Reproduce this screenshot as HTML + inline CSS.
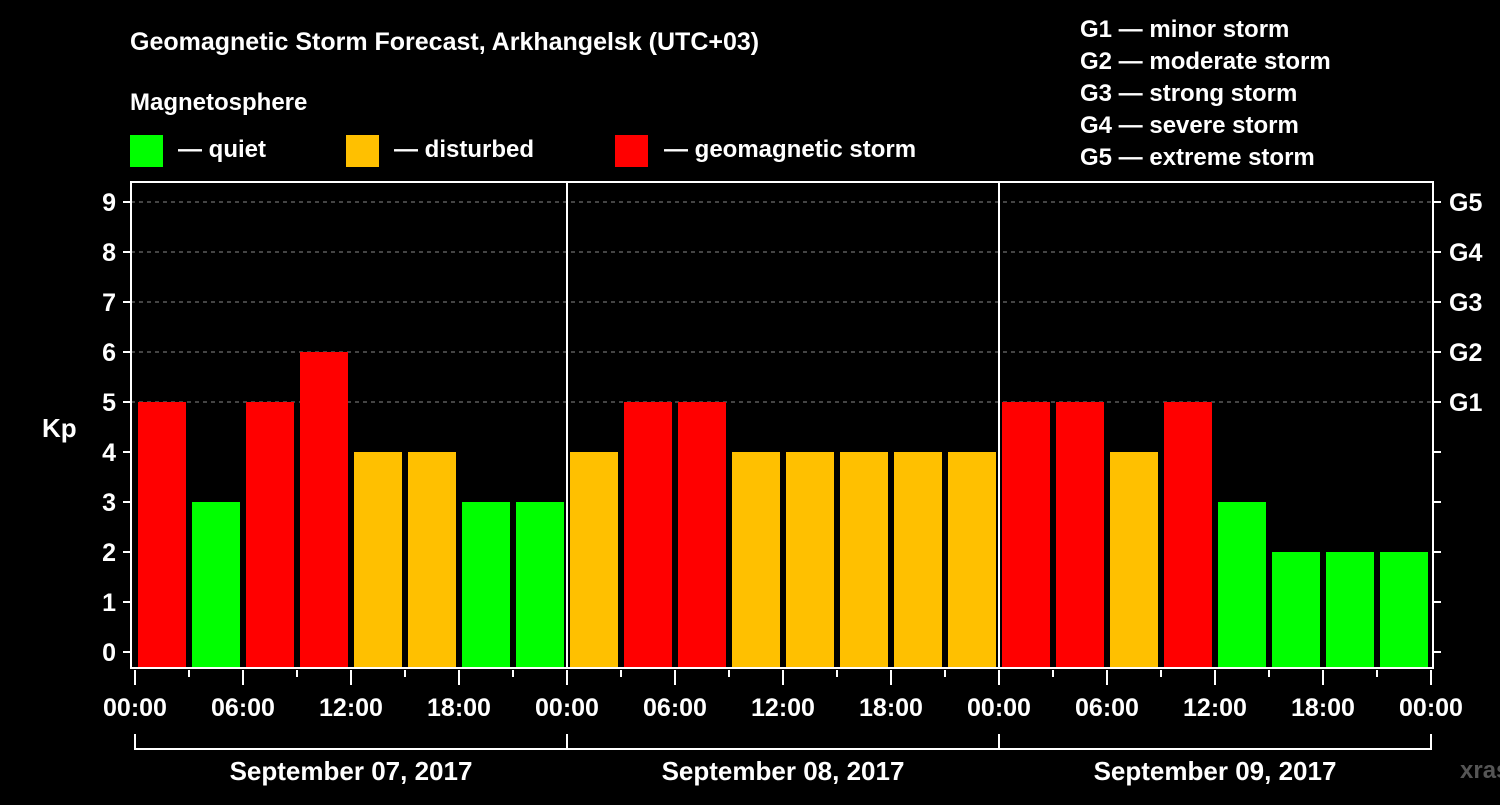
<!DOCTYPE html>
<html><head><meta charset="utf-8"><style>
body{margin:0;background:#000;}
svg text{font-family:"Liberation Sans",Arial,sans-serif;font-weight:bold;fill:#fff;}
</style></head><body>
<svg id="c" width="1500" height="800" xmlns="http://www.w3.org/2000/svg">
<rect width="1500" height="800" fill="#000"/>
<text x="130" y="50" font-size="25">Geomagnetic Storm Forecast, Arkhangelsk (UTC+03)</text>
<text x="130" y="110" font-size="24">Magnetosphere</text>
<g>
<rect x="130" y="135" width="33" height="32" fill="#00ff00"/>
<text x="178" y="157" font-size="24">— quiet</text>
<rect x="346" y="135" width="33" height="32" fill="#ffc000"/>
<text x="394" y="157" font-size="24">— disturbed</text>
<rect x="615" y="135" width="33" height="32" fill="#ff0000"/>
<text x="664" y="157" font-size="24">— geomagnetic storm</text>
</g>
<g font-size="24">
<text x="1080" y="37">G1 — minor storm</text>
<text x="1080" y="69">G2 — moderate storm</text>
<text x="1080" y="101">G3 — strong storm</text>
<text x="1080" y="133">G4 — severe storm</text>
<text x="1080" y="165">G5 — extreme storm</text>
</g>
<text x="42" y="437" font-size="26">Kp</text>
<text x="1460" y="778" font-size="24" fill="#555" style="fill:#555">xras.ru</text>
<g id="plot"></g>
</svg>
<script>
const kpValues=[5,3,5,6,4,4,3,3, 4,5,5,4,4,4,4,4, 5,5,4,5,3,2,2,2];
const dayLabels=["September 07, 2017","September 08, 2017","September 09, 2017"];
const timeLabels=["00:00","06:00","12:00","18:00"];
const yTicks=[0,1,2,3,4,5,6,7,8,9];
const gLabels=["G1","G2","G3","G4","G5"];

const NS="http://www.w3.org/2000/svg";
const g=document.getElementById('plot');
const X0=135,STEP=54,Y0=652,UNIT=50,BOTTOM=668,TOP=182,LEFT=131,RIGHT=1433;
const xs=i=>X0+i*STEP;
const ys=v=>Y0-v*UNIT;
function el(t,a){const e=document.createElementNS(NS,t);for(const k in a)e.setAttribute(k,a[k]);g.appendChild(e);return e;}
function color(v){return v>=5?'#ff0000':v>=4?'#ffc000':'#00ff00';}
// gridlines
yTicks.forEach(v=>{if(v>=5){const l=el('line',{x1:LEFT,x2:RIGHT,y1:ys(v),y2:ys(v),stroke:'#888','stroke-dasharray':'4,4','stroke-width':1});

}});
// bars
kpValues.forEach((v,i)=>{const r=el('rect',{x:xs(i)+3,y:ys(v),width:48,height:BOTTOM-ys(v),fill:color(v)});

});
// frame
const fr=el('rect',{x:LEFT,y:TOP,width:RIGHT-LEFT,height:BOTTOM-TOP,fill:'none',stroke:'#fff','stroke-width':2});


// day separators
for(let d=1;d<dayLabels.length;d++){const l=el('line',{x1:xs(d*8),x2:xs(d*8),y1:TOP,y2:BOTTOM,stroke:'#fff','stroke-width':2});

}
// y ticks
yTicks.forEach(v=>{
el('line',{x1:123,x2:LEFT,y1:ys(v),y2:ys(v),stroke:'#fff','stroke-width':2});
el('line',{x1:RIGHT,x2:1441,y1:ys(v),y2:ys(v),stroke:'#fff','stroke-width':2});
const t=el('text',{x:116,y:ys(v)+9,'font-size':25,'text-anchor':'end'});t.textContent=v;

});
gLabels.forEach((s,i)=>{const t=el('text',{x:1449,y:ys(5+i)+9,'font-size':25});t.textContent=s;

});
// x ticks
for(let i=0;i<=kpValues.length;i++){const major=i%2===0;
el('line',{x1:xs(i),x2:xs(i),y1:670,y2:major?685:677,stroke:'#fff','stroke-width':2});
if(major){const t=el('text',{x:xs(i),y:716,'font-size':25,'text-anchor':'middle'});t.textContent=timeLabels[(i/2)%4];

}}
// day brackets
el('line',{x1:xs(0),x2:xs(kpValues.length),y1:749,y2:749,stroke:'#fff','stroke-width':2});
for(let d=0;d<=dayLabels.length;d++)el('line',{x1:xs(d*8),x2:xs(d*8),y1:734,y2:750,stroke:'#fff','stroke-width':2});
dayLabels.forEach((s,d)=>{const t=el('text',{x:xs(d*8+4),y:780,'font-size':26,'text-anchor':'middle'});t.textContent=s;

});
</script>
</body></html>
